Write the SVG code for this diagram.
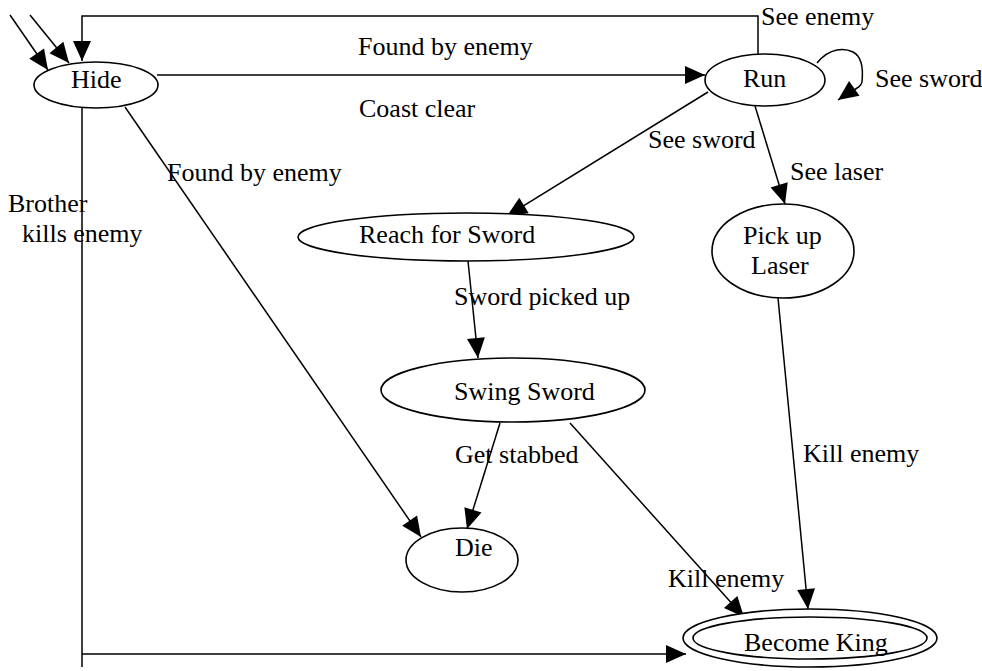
<svg xmlns="http://www.w3.org/2000/svg" width="982" height="671" viewBox="0 0 982 671">
<style>
text{font-family:"Liberation Serif","Times New Roman",serif;font-size:26px;fill:#000}
.n{fill:#fff;stroke:#000;stroke-width:1.6}
.e{fill:none;stroke:#000;stroke-width:1.5}
.a{marker-end:url(#ah)}
</style>
<defs>
<marker id="ah" markerUnits="userSpaceOnUse" markerWidth="21" markerHeight="20" refX="20" refY="9" orient="auto" overflow="visible">
<path d="M0,0 L20,9 L0,18 z" fill="#000"/>
</marker>
</defs>
<rect width="982" height="671" fill="#fff"/>
<g id="connectors">
<line class="e a" x1="10" y1="15" x2="48" y2="70"/>
<line class="e a" x1="30" y1="15" x2="69" y2="63"/>
<polyline class="e a" points="758,54 758,16 82,16 82,61"/>
<line class="e a" x1="157" y1="75" x2="705" y2="75"/>
<path class="e a" d="M817,63 C830,47 845,48 853,52 C863,57 863,72 862,82 C861,88 852,90 838,100"/>
<line class="e a" x1="708" y1="92" x2="507" y2="216"/>
<line class="e a" x1="755" y1="106" x2="785" y2="204"/>
<line class="e a" x1="125" y1="107" x2="421" y2="537"/>
<line class="e a" x1="468" y1="261" x2="478" y2="358"/>
<line class="e a" x1="500" y1="423" x2="467" y2="529"/>
<line class="e a" x1="570" y1="423" x2="744" y2="617"/>
<line class="e a" x1="778" y1="298" x2="808" y2="609"/>
<path class="e a" d="M82,107 V667 M82,654 H686"/>
</g>
<g id="labels">
<text x="761" y="25">See enemy</text>
<text x="358" y="55">Found by enemy</text>
<text x="359" y="117">Coast clear</text>
<text x="875" y="87">See sword</text>
<text x="648" y="148">See sword</text>
<text x="167" y="181">Found by enemy</text>
<text x="790" y="180">See laser</text>
<text x="8" y="212">Brother</text>
<text x="22" y="242">kills enemy</text>
<text x="454" y="305">Sword picked up</text>
<text x="455" y="463">Get stabbed</text>
<text x="803" y="462">Kill enemy</text>
<text x="668" y="587">Kill enemy</text>
</g>
<g id="hide">
<ellipse class="n" cx="96" cy="85" rx="62" ry="23"/>
<text x="71" y="88">Hide</text>
</g>
<g id="run">
<ellipse class="n" cx="765" cy="80" rx="60" ry="26"/>
<text x="743" y="87">Run</text>
</g>
<g id="reach">
<ellipse class="n" cx="466" cy="237" rx="168" ry="24"/>
<text x="359" y="243">Reach for Sword</text>
</g>
<g id="laser">
<ellipse class="n" cx="783" cy="251" rx="71" ry="47"/>
<text x="743" y="244">Pick up</text>
<text x="751" y="274">Laser</text>
</g>
<g id="swing">
<ellipse class="n" cx="513" cy="390" rx="132" ry="32"/>
<text x="454" y="400">Swing Sword</text>
</g>
<g id="die">
<ellipse class="n" cx="462" cy="560" rx="56" ry="32"/>
<text x="455" y="556">Die</text>
</g>
<g id="king">
<ellipse class="n" cx="810" cy="638" rx="127" ry="29"/>
<ellipse class="n" cx="810" cy="638" rx="117" ry="21"/>
<text x="744" y="651">Become King</text>
</g>
</svg>
